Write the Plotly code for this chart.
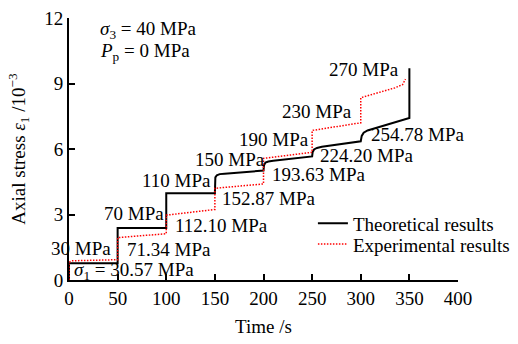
import plotly.graph_objects as go

# Theoretical results (black)
theo_t = [0, 0, 50, 50, 100, 100, 150, 150, 150.5, 152, 155, 160, 200,
          200, 200.5, 202, 205, 210, 250,
          250, 250.5, 252, 255, 260, 300,
          300, 301, 303, 307, 315, 350, 350]
theo_e = [0, 0.77, 0.77, 2.38, 2.38, 3.97, 3.97, 4.5, 4.7, 4.8, 4.85, 4.87, 5.01,
          5.01, 5.25, 5.38, 5.43, 5.46, 5.66,
          5.66, 5.85, 5.98, 6.05, 6.1, 6.35,
          6.35, 6.6, 6.75, 6.85, 6.95, 7.42, 9.7]

# Experimental results (red)
exp_t = [0, 0, 3, 50, 50, 100, 100, 150, 150, 200, 200, 250, 250, 300, 300, 320, 335, 343, 346]
exp_e = [0, 0.81, 0.88, 0.93, 1.94, 2.12, 2.97, 3.23, 4.2, 4.4, 5.57, 5.85, 6.85, 7.2,
         8.35, 8.6, 8.8, 8.95, 9.2]

x_ticks = [0, 50, 100, 150, 200, 250, 300, 350, 400]
y_ticks = [0, 3, 6, 9, 12]

# stress-level labels: (text, x, y, anchor)
labels = [
    ("<i>σ</i><sub>3</sub> = 40 MPa", 29.5, 11.43, "left"),
    ("<i>P</i><sub>p</sub> = 0 MPa", 29.5, 10.44, "left"),
    ("30 MPa", 45.0, 1.44, "right"),
    ("<i>σ</i><sub>1</sub> = 30.57 MPa", 2.8, 0.43, "left"),
    ("70 MPa", 33.6, 3.06, "left"),
    ("71.34 MPa", 57.2, 1.40, "left"),
    ("110 MPa", 72.7, 4.58, "left"),
    ("112.10 MPa", 106.6, 2.51, "left"),
    ("150 MPa", 127.1, 5.51, "left"),
    ("152.87 MPa", 154.9, 3.75, "left"),
    ("190 MPa", 172.4, 6.43, "left"),
    ("193.63 MPa", 206.3, 4.81, "left"),
    ("230 MPa", 216.8, 7.72, "left"),
    ("224.20 MPa", 255.9, 5.69, "left"),
    ("270 MPa", 265.2, 9.66, "left"),
    ("254.78 MPa", 308.3, 6.66, "left"),
]

FONT = "Liberation Serif"
FS = 19

fig = go.Figure()
fig.add_trace(go.Scatter(x=theo_t, y=theo_e, mode="lines", name="Theoretical results",
                         line=dict(color="black", width=2), cliponaxis=False,
                         legend="legend"))
fig.add_trace(go.Scatter(x=exp_t, y=exp_e, mode="lines", name="Experimental results",
                         line=dict(color="red", width=1.5, dash="1.5px,1.5px"), cliponaxis=False,
                         legend="legend2"))

for txt, x, y, anc in labels:
    fig.add_annotation(x=x, y=y, text=txt, showarrow=False, xanchor=anc, yanchor="middle",
                       font=dict(family=FONT, size=FS, color="black"))

leg_common = dict(xanchor="left", yanchor="top", bgcolor="rgba(0,0,0,0)",
                  font=dict(family=FONT, size=FS, color="black"))
fig.update_layout(
    width=518, height=344,
    margin=dict(l=69, r=60, t=18, b=64, autoexpand=False),
    paper_bgcolor="white", plot_bgcolor="white",
    font=dict(family=FONT, size=FS, color="black"),
    showlegend=True,
    legend=dict(x=0.627, y=0.289, **leg_common),
    legend2=dict(x=0.627, y=0.209, **leg_common),
)
fig.update_xaxes(range=[0, 400], tickvals=x_ticks, ticks="inside", ticklen=6, tickwidth=2,
                 showline=True, linewidth=2, linecolor="black", tickcolor="black",
                 showgrid=False, zeroline=False, automargin=False,
                 tickfont=dict(family=FONT, size=FS),
                 title=dict(text="Time /s", font=dict(family=FONT, size=FS), standoff=12))
fig.update_yaxes(range=[0, 12], tickvals=y_ticks, ticks="inside", ticklen=6, tickwidth=2,
                 showline=True, linewidth=2, linecolor="black", tickcolor="black",
                 showgrid=False, zeroline=False, automargin=False,
                 tickfont=dict(family=FONT, size=FS),
                 title=dict(text="Axial stress <i>ε</i><sub>1</sub> /10<sup>−3</sup>",
                            font=dict(family=FONT, size=FS), standoff=14))

fig.write_html("out.html", config={"displayModeBar": False},
               post_script="document.body.style.margin='0';")
